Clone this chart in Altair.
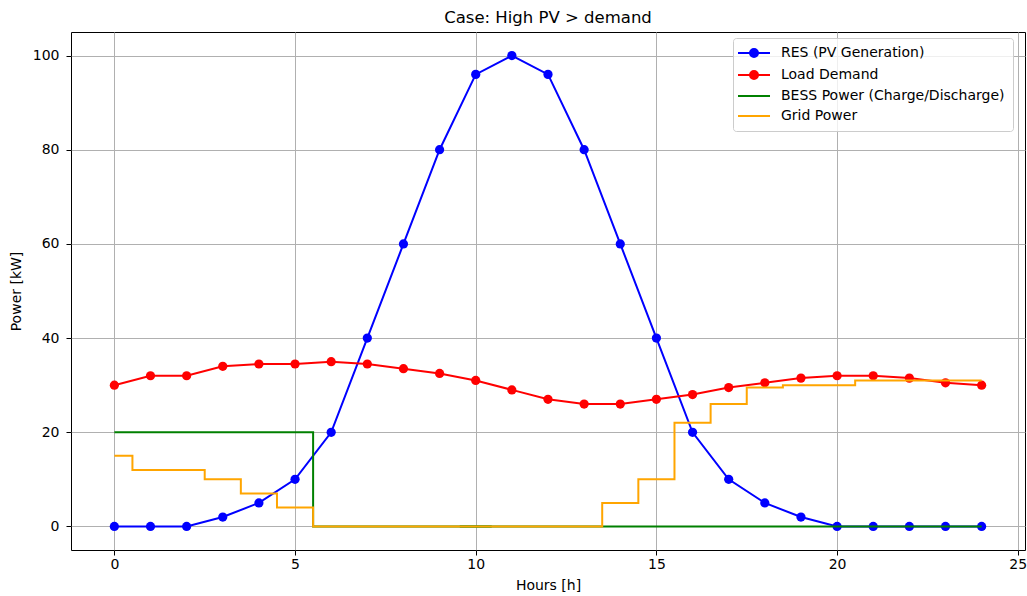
import altair as alt
import pandas as pd

hours = list(range(25))
res_pv = [0, 0, 0, 2, 5, 10, 20, 40, 60, 80, 96, 100, 96, 80, 60, 40, 20, 10, 5, 2, 0, 0, 0, 0, 0]
load_demand = [30, 32, 32, 34, 34.5, 34.5, 35, 34.5, 33.5, 32.5, 31, 29, 27, 26, 26, 27, 28, 29.5, 30.5, 31.5, 32, 32, 31.5, 30.5, 30]
bess_power = [20, 20, 20, 20, 20, 20, 0, 0, 0, 0, 0, 0, 0, 0, 0, 0, 0, 0, 0, 0, 0, 0, 0, 0, 0]
grid_power = [15, 12, 12, 10, 7, 4, 0, 0, 0, 0, 0, 0, 0, 0, 5, 10, 22, 26, 29.5, 30, 30, 31, 31, 31, 31]

series_names = ["RES (PV Generation)", "Load Demand", "BESS Power (Charge/Discharge)", "Grid Power"]
series_colors = ["#0000ff", "#ff0000", "#008000", "#ffa500"]
x_ticks = [0, 5, 10, 15, 20, 25]
y_ticks = [0, 20, 40, 60, 80, 100]

rows = []
for name, vals in zip(series_names, [res_pv, load_demand, bess_power, grid_power]):
    for h, v in zip(hours, vals):
        rows.append({"hour": h, "value": v, "series": name})
df = pd.DataFrame(rows)

FONT = "DejaVu Sans"
LINE_DOT = "M-3.2,0L3.2,0M-0.8,0A0.8,0.8,0,1,1,0.8,0A0.8,0.8,0,1,1,-0.8,0Z"
LINE_ONLY = "M-3.2,0L3.2,0"

x_enc = alt.X("hour:Q",
              scale=alt.Scale(domain=[-1.2, 25.2], nice=False, zero=False),
              axis=alt.Axis(values=x_ticks, title="Hours [h]", format="d",
                            labelPadding=2, titlePadding=7))
y_enc = alt.Y("value:Q",
              scale=alt.Scale(domain=[-5, 105], nice=False, zero=False),
              axis=alt.Axis(values=y_ticks, title="Power [kW]", format="d",
                            labelPadding=7, titlePadding=9))
color_enc = alt.Color("series:N",
                      scale=alt.Scale(domain=series_names, range=series_colors),
                      legend=None)

base = alt.Chart(df).encode(x=x_enc, y=y_enc, color=color_enc)


def sel(name):
    return base.transform_filter(alt.datum.series == name)


res_line = sel(series_names[0]).mark_line(strokeWidth=2)
res_pts = sel(series_names[0]).mark_circle(size=85, opacity=1)
load_line = sel(series_names[1]).mark_line(strokeWidth=2)
load_pts = sel(series_names[1]).mark_circle(size=85, opacity=1)
bess_line = sel(series_names[2]).mark_line(strokeWidth=2, interpolate="step")
grid_line = sel(series_names[3]).mark_line(strokeWidth=2, interpolate="step")

legend_def = alt.Legend(
    title=None,
    orient="none",
    legendX=662,
    legendY=6,
    padding=8,
    fillColor="rgba(255,255,255,0.8)",
    strokeColor="#cccccc",
    cornerRadius=3,
    labelFont=FONT,
    labelFontSize=14,
    labelColor="black",
    symbolSize=100,
    symbolStrokeWidth=2,
    symbolOpacity=1,
    symbolOffset=6,
    labelOffset=20,
    rowPadding=6,
    labelLimit=400,
)

# legend carrier: one BESS sample at hour 10 (value 0), hidden under the grid line
legend_layer = alt.Chart(df).transform_filter(
    (alt.datum.series == series_names[2]) & (alt.datum.hour == 10)
).mark_point(
    filled=True, opacity=1, strokeWidth=2, size=100
).encode(
    x=x_enc,
    y=y_enc,
    fill=alt.Fill("series:N", scale=alt.Scale(domain=series_names, range=series_colors), legend=legend_def),
    stroke=alt.Stroke("series:N", scale=alt.Scale(domain=series_names, range=series_colors), legend=legend_def),
    shape=alt.Shape("series:N",
                    scale=alt.Scale(domain=series_names, range=[LINE_DOT, LINE_DOT, LINE_ONLY, LINE_ONLY]),
                    legend=legend_def),
)

chart = alt.layer(
    legend_layer, res_line, res_pts, load_line, load_pts, bess_line, grid_line
).properties(
    width=954,
    height=518,
    autosize=alt.AutoSizeParams(type="none"),
    padding={"left": 71, "top": 32, "right": 2, "bottom": 46},
    title=alt.TitleParams("Case: High PV > demand", font=FONT, fontSize=16.5,
                          fontWeight="normal", anchor="middle", offset=6, color="black"),
).configure_view(
    stroke="black", strokeWidth=1
).configure_axis(
    labelFont=FONT, titleFont=FONT, labelFontSize=14, titleFontSize=14,
    labelColor="black", titleColor="black", titleFontWeight="normal",
    tickColor="black", tickSize=5, tickWidth=1, domain=False,
    gridColor="#b0b0b0", gridWidth=1, gridOpacity=1
)

chart.save("out.html", embed_options={"renderer": "svg", "actions": False})
